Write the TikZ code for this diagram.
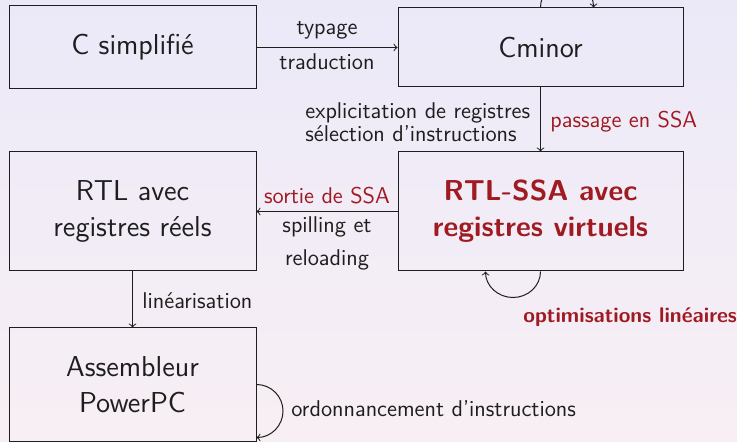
\documentclass[tikz,border=0pt]{standalone}
\usepackage{fontspec}
\definecolor{bgtop}{RGB}{235,233,248}
\definecolor{bgbot}{RGB}{248,239,244}
\definecolor{myred}{RGB}{160,26,34}
\definecolor{ink}{RGB}{30,30,30}
\begin{document}
\begin{tikzpicture}[x=0.5pt,y=-0.5pt,
  box/.style={draw=ink,line width=0.5pt,align=center,inner sep=0pt,text=ink,
    font=\sffamily\fontsize{14.4}{18}\selectfont},
  redbox/.style={box,text=myred,font=\sffamily\bfseries\fontsize{14.4}{18}\selectfont},
  lbl/.style={font=\sffamily\fontsize{11.4}{13}\selectfont,inner sep=0pt,text=ink},
  redlbl/.style={lbl,text=myred},
  conn/.style={->,draw=ink,line width=0.5pt},
]
\useasboundingbox (0,0) rectangle (737,442);
\fill[top color=bgtop,bottom color=bgbot] (0,0) rectangle (737,442);
\clip (0,0) rectangle (737,442);

\node[box,minimum width=123.5pt,minimum height=41.5pt] (cs) at (132.5,47.5) {C simplifié};
\node[box,minimum width=142.5pt,minimum height=39.5pt] (cm) at (540.5,47.5) {Cminor};
\node[box,minimum width=123.5pt,minimum height=59.5pt] (rtl) at (132.5,211.5) {RTL avec\\registres réels};
\node[redbox,minimum width=142.5pt,minimum height=59.5pt] (ssa) at (540.5,211.5) {RTL-SSA avec\\registres virtuels};
\node[box,minimum width=123.5pt,minimum height=56.5pt] (asm) at (132.5,384.5) {Assembleur\\PowerPC};

% C simplifie -> Cminor
\draw[conn] (cs) -- (cm);
\node[lbl,anchor=base] (l1) at (327,35) {typage};
\node[lbl,anchor=base] (l2) at (327,70) {traduction};

% Cminor -> RTL-SSA
\draw[conn] (cm) -- (ssa);
\node[lbl,anchor=base west,align=left,font=\sffamily\fontsize{11.4}{11.8}\selectfont] (l3) at (305,141.7) {explicitation de registres\\sélection d’instructions};
\node[redlbl,anchor=base west] (l4) at (550,128) {passage en SSA};

% RTL-SSA -> RTL
\draw[conn] (ssa) -- (rtl);
\node[redlbl,anchor=base] (l5) at (327,204) {sortie de SSA};
\node[lbl,anchor=base,align=center,font=\sffamily\fontsize{11.4}{16.5}\selectfont] (l6) at (327,266) {spilling et\\reloading};

% RTL -> Assembleur
\draw[conn] (rtl) -- (asm);
\node[lbl,anchor=base west] (l7) at (142,309) {linéarisation};

% loops
\draw[conn] (cm.north) arc[start angle=180,end angle=360,radius=26.5];
\draw[conn] (ssa.south) arc[start angle=0,end angle=180,x radius=27.5,y radius=26];
\node[redlbl,anchor=base west,font=\sffamily\bfseries\fontsize{10.6}{13}\selectfont] (l8) at (523,323) {optimisations linéaires};
\draw[conn] (asm.east) arc[start angle=-90,end angle=90,radius=26.5];
\node[lbl,anchor=base west] (l9) at (291,416) {ordonnancement d’instructions};
\end{tikzpicture}
\end{document}
